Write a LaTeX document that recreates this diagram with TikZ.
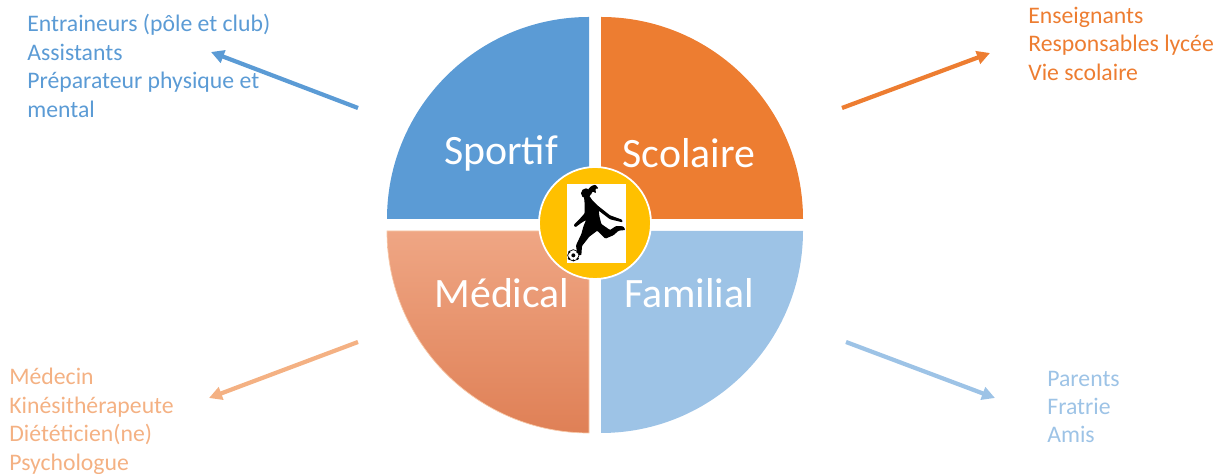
\documentclass[tikz,border=0pt]{standalone}
\usepackage{fontspec}
\setmainfont{Carlito}
\usepackage{tikz}
\usetikzlibrary{arrows.meta}
\definecolor{sportblue}{RGB}{91, 155, 213}
\definecolor{schoolorange}{RGB}{237, 125, 49}
\definecolor{familyblue}{RGB}{157, 195, 230}
\definecolor{medicalpeach}{RGB}{244, 177, 131}
\definecolor{medicaltop}{RGB}{239, 166, 132}
\definecolor{medicalmiddle}{RGB}{238, 152, 110}
\definecolor{medicalbottom}{RGB}{223, 128, 86}
\definecolor{hubyellow}{RGB}{255, 192, 0}
\tikzset{
    quartertext/.style={text=white, font=\fontsize{23.8}{28}\selectfont},
    listtext/.style={anchor=north west, align=left, inner sep=0pt, font=\fontsize{13.5}{16.2}\selectfont},
    linkarrow/.style={line width=2.4pt, -{Triangle[length=0.26cm,width=0.26cm]}}
}

\begin{document}
\begin{tikzpicture}
    \useasboundingbox (0.00,0.00) rectangle (24.50,9.48);
    % quarters
    \fill[sportblue]    (11.78,5.10) -- (7.74,5.10) arc (180:90:4.04) -- cycle;
    \fill[schoolorange] (12.02,5.10) -- (16.06,5.10) arc (0:90:4.04) -- cycle;
    \fill[familyblue]   (12.02,4.86) -- (16.06,4.86) arc (0:-90:4.04) -- cycle;
    \shade[top color=medicaltop, middle color=medicalmiddle, bottom color=medicalbottom, draw=medicalpeach!70, thin]
        (11.78,4.86) -- (7.74,4.86) arc (180:270:4.04) -- cycle;
    \node[quartertext] (sportif)  at (10.02,6.42) {Sportif};
    \node[quartertext] (scolaire) at (13.78,6.42) {Scolaire};
    \node[quartertext] (medical)  at (10.04,3.62) {Médical};
    \node[quartertext] (familial) at (13.78,3.62) {Familial};
    % hub with the player
    \filldraw[draw=white, fill=hubyellow, line width=1pt] (11.90,5.02) circle (1.12);
    \fill[white] (11.34,4.22) rectangle (12.52,5.80);
    \begin{scope}[shift={(11.20,5.88)}, x=0.00667cm, y=-0.00667cm]
        \fill[black] (78,40) ellipse (15 and 15);
        \fill[black, rounded corners=0.5pt] (84,28) -- (94,18) -- (106,14) -- (116,26) -- (106,26) -- (108,40) -- (98,34) -- (92,46) -- cycle;
        \fill[black, rounded corners=0.5pt] (72,50) -- (90,50) -- (96,60) -- (112,76) -- (150,106) -- (186,119) -- (188,127) -- (150,118)
            -- (116,92) -- (118,108) -- (124,132) -- (150,150) -- (168,138) -- (190,139) -- (196,150) -- (176,152)
            -- (160,166) -- (136,176) -- (112,152) -- (88,170) -- (66,198) -- (64,226) -- (52,224) -- (48,196)
            -- (64,162) -- (70,140) -- (78,120) -- (62,130) -- (46,142) -- (41,135) -- (58,118) -- (74,100)
            -- (74,72) -- cycle;
        \filldraw[draw=black, fill=white, line width=0.4pt] (40,226) circle (17 and 17);
        \fill[black] (40,226) circle (6 and 6);
        \fill[black] (28,216) circle (4 and 4);
        \fill[black] (52,216) circle (4 and 4);
        \fill[black] (27,236) circle (4 and 4);
        \fill[black] (53,236) circle (4 and 4);
        \fill[black] (40,241) circle (3 and 3);
    \end{scope}
    % lists
    \node[listtext, text=sportblue] (sportiflist) at (0.54,9.20)
        {Entraineurs (pôle et club)\\Assistants\\Préparateur physique et\\mental};
    \node[listtext, text=schoolorange] (scolairelist) at (20.56,9.35)
        {Enseignants\\Responsables lycée\\Vie scolaire};
    \node[listtext, text=medicalpeach] (medicallist) at (0.18,2.12)
        {Médecin\\Kinésithérapeute\\Diététicien(ne)\\Psychologue};
    \node[listtext, text=familyblue] (familiallist) at (20.94,2.07)
        {Parents\\Fratrie\\Amis};
    % arrows
    \coordinate (sportiffrom)  at (7.16,7.32);
    \coordinate (sportifto)    at (4.22,8.44);
    \coordinate (scolairefrom) at (16.84,7.32);
    \coordinate (scolaireto)   at (19.80,8.42);
    \coordinate (medicalfrom)  at (7.16,2.64);
    \coordinate (medicalto)    at (4.18,1.52);
    \coordinate (familialfrom) at (16.92,2.64);
    \coordinate (familialto)   at (19.90,1.52);
    \draw[linkarrow, sportblue]    (sportiffrom)  -- (sportifto);
    \draw[linkarrow, schoolorange] (scolairefrom) -- (scolaireto);
    \draw[linkarrow, medicalpeach] (medicalfrom)  -- (medicalto);
    \draw[linkarrow, familyblue]   (familialfrom) -- (familialto);
\end{tikzpicture}
\end{document}
